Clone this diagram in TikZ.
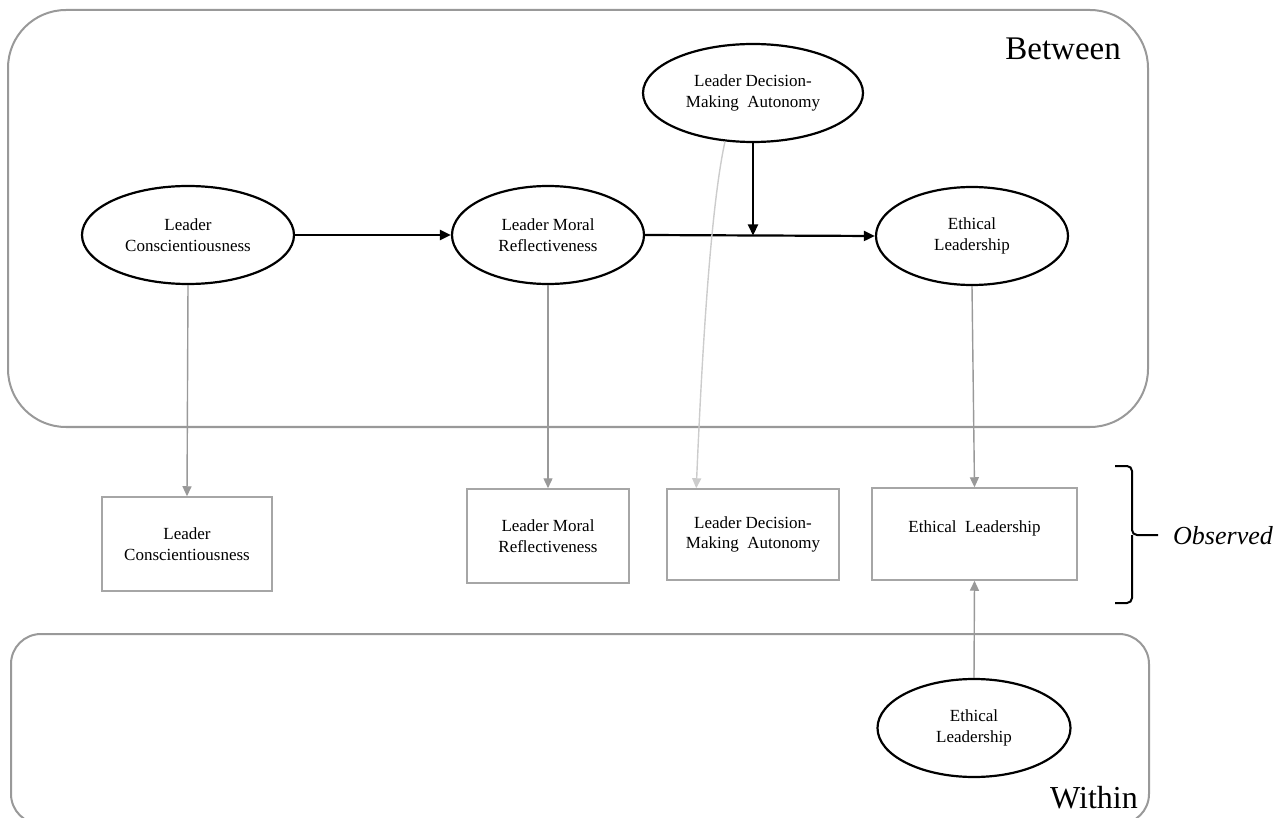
\documentclass[tikz,border=0pt]{standalone}
\usepackage{fontspec}
\setmainfont{Liberation Serif}
\usetikzlibrary{arrows.meta,shapes.geometric,calc}
\tikzset{
  latent/.style={draw=black, line width=2.2pt, ellipse, inner sep=0pt, minimum height=98pt, align=center, font=\fontsize{17}{20.5}\selectfont},
  obsbox/.style={draw=black!35, line width=1.5pt, rectangle, inner sep=0pt, align=center, font=\fontsize{17}{20.5}\selectfont},
  region/.style={draw=black!40, line width=2pt, rectangle, inner sep=0pt},
  blkarrow/.style={draw=black, line width=2.2pt, -{Triangle[length=11pt,width=10pt]}},
  grayarrow/.style={draw=black!40, line width=1.4pt, -{Triangle[length=10pt,width=9pt]}},
  lightarrow/.style={draw=black!20, line width=1.4pt, -{Triangle[length=10pt,width=9pt]}},
  biglabel/.style={inner sep=0pt, font=\fontsize{33}{36}\selectfont},
}
\begin{document}
\begin{tikzpicture}[x=1pt,y=-1pt]
\useasboundingbox (0,0) rectangle (1286,818);
\begin{scope}
\clip (0,0) rectangle (1286,818);
% regions
\node[region, rounded corners=58pt, minimum width=1140pt, minimum height=417pt] (between) at (578,218.5) {};
\node[region, rounded corners=30pt, minimum width=1138pt, minimum height=190pt] (within) at (580,729) {};
\end{scope}
\node[biglabel, anchor=base east] (betweenlbl) at (1121,60) {Between};
\node[biglabel, anchor=base east, font=\fontsize{32}{36}\selectfont] (withinlbl) at (1138,808) {Within};

% latent variables (between)
\node[latent, minimum width=212pt] (lc) at (188,235) {Leader\\Conscientiousness};
\node[latent, minimum width=192pt] (lmr) at (548,235) {Leader Moral\\Reflectiveness};
\node[latent, minimum width=220pt] (ldma) at (753,93) {Leader Decision-\\Making\ \ Autonomy};
\node[latent, minimum width=192pt] (el) at (972,236) {Ethical\\Leadership};

% within latent
\node[latent, minimum width=193pt] (elw) at (974,728) {Ethical\\Leadership};

% observed boxes
\node[obsbox, minimum width=170pt, minimum height=94pt] (lcb) at (187,544) {Leader\\Conscientiousness};
\node[obsbox, minimum width=162pt, minimum height=94pt] (lmrb) at (548,536) {Leader Moral\\Reflectiveness};
\node[obsbox, minimum width=172pt, minimum height=91pt] (ldmab) at (753,534.5) {Leader Decision-\\Making\ \ Autonomy};
\node[obsbox, minimum width=205pt, minimum height=92pt, text height=12pt, text depth=16pt] (elb) at (974.5,534) {Ethical\ \ Leadership};

% structural paths
\draw[blkarrow] (lc.east) -- (lmr.west);
\draw[blkarrow] (lmr.east) -- (el.west);
\coordinate (mod) at (753,235.5);
\draw[blkarrow] (ldma.south) -- (mod);

% measurement paths
\draw[grayarrow] (lc.south) -- (lcb.north);
\draw[grayarrow] (lmr.south) -- (lmrb.north);
\draw[grayarrow] (el.south) -- (elb.north);
\draw[grayarrow] (elw.north) -- (elb.south);
\coordinate (ldmain) at ($(ldmab.north west)+(30,0)$);
\draw[lightarrow] (ldma.-120) .. controls (712,200) and (703,330) .. (ldmain);

% observed brace
\coordinate (bt) at (1115,466);
\coordinate (bb) at (1115,603);
\coordinate (btip) at (1158,535);
\draw[black, line width=2pt, rounded corners=5pt] (bt) -| (1132,535) -- (btip);
\draw[black, line width=2pt, rounded corners=5pt] (bb) -| (1132,535);
\node[anchor=west, inner sep=0pt, font=\fontsize{26}{30}\selectfont\itshape] (obs) at (1173,536) {Observed};
\end{tikzpicture}
\end{document}
